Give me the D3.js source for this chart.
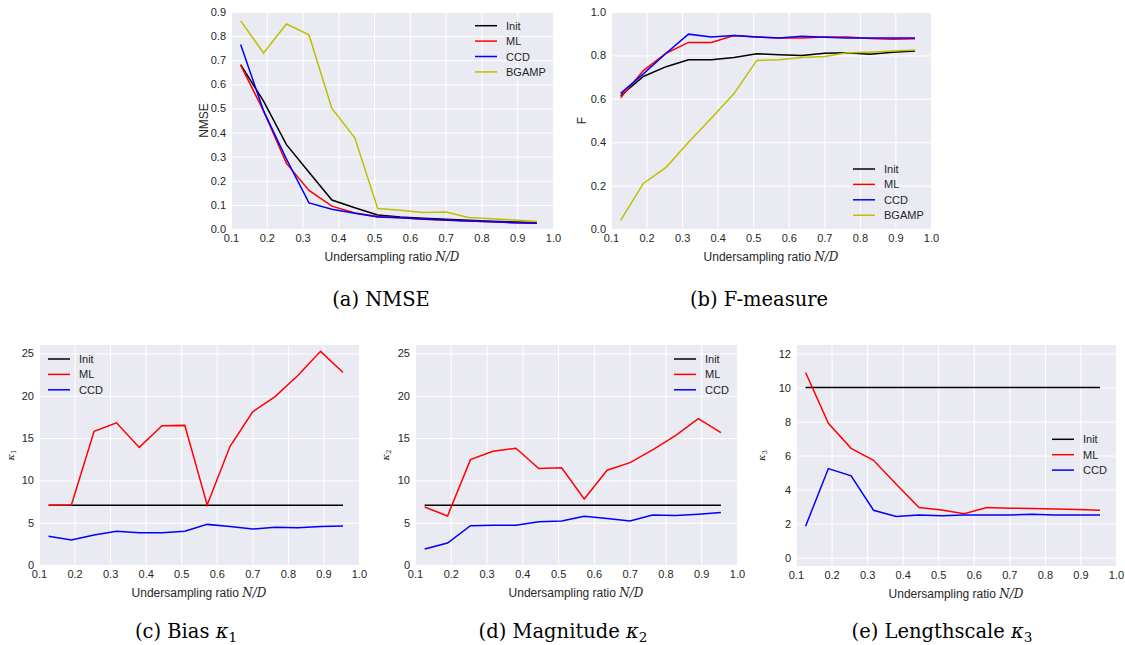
<!DOCTYPE html>
<html><head><meta charset="utf-8">
<script src="https://cdn.jsdelivr.net/npm/d3@7"></script>
<style>body{margin:0;background:#fff}svg{display:block}</style>
</head><body>
<svg id="c" width="1125" height="645"></svg>
<script>
// ---- data ----
const ratios = [0.127,0.191,0.255,0.318,0.382,0.446,0.510,0.573,0.637,0.701,0.764,0.828,0.892,0.955];
const seriesNames = ["Init","ML","CCD","BGAMP"];
const seriesColors = ["#000000","#ff0000","#0000ff","#bfbf00"];

const nmseInit  = [0.682,0.53,0.35,0.235,0.12,0.088,0.058,0.05,0.045,0.04,0.036,0.032,0.029,0.027];
const nmseML    = [0.68,0.49,0.272,0.16,0.095,0.066,0.052,0.047,0.04,0.036,0.033,0.03,0.026,0.024];
const nmseCCD   = [0.765,0.49,0.29,0.108,0.082,0.065,0.05,0.047,0.041,0.037,0.033,0.03,0.026,0.024];
const nmseBGAMP = [0.863,0.73,0.85,0.805,0.50,0.378,0.085,0.078,0.068,0.07,0.048,0.042,0.037,0.031];

const fInit  = [0.614,0.703,0.748,0.78,0.78,0.79,0.808,0.803,0.799,0.81,0.812,0.805,0.815,0.82];
const fML    = [0.605,0.73,0.81,0.86,0.86,0.892,0.885,0.88,0.88,0.885,0.885,0.878,0.875,0.877];
const fCCD   = [0.625,0.715,0.81,0.898,0.885,0.892,0.885,0.88,0.888,0.884,0.88,0.88,0.88,0.88];
const fBGAMP = [0.04,0.21,0.284,0.40,0.51,0.624,0.777,0.78,0.79,0.795,0.812,0.815,0.82,0.825];

const k1Init = [7.07,7.07,7.07,7.07,7.07,7.07,7.07,7.07,7.07,7.07,7.07,7.07,7.07,7.07];
const k1ML   = [7.07,7.1,15.8,16.8,13.9,16.45,16.5,7.1,14.0,18.1,19.9,22.4,25.25,22.75];
const k1CCD  = [3.4,2.95,3.55,4.0,3.8,3.8,4.0,4.8,4.55,4.25,4.45,4.4,4.55,4.6];

const k2Init = [7.07,7.07,7.07,7.07,7.07,7.07,7.07,7.07,7.07,7.07,7.07,7.07,7.07,7.07];
const k2ML   = [6.85,5.8,12.45,13.45,13.8,11.4,11.5,7.8,11.2,12.1,13.6,15.3,17.3,15.65];
const k2CCD  = [1.9,2.6,4.65,4.7,4.7,5.1,5.2,5.75,5.5,5.2,5.9,5.85,6.0,6.2];

const k3Init = [10,10,10,10,10,10,10,10,10,10,10,10,10,10];
const k3ML   = [10.88,7.89,6.42,5.72,4.31,2.94,2.8,2.58,2.94,2.9,2.88,2.86,2.82,2.78];
const k3CCD  = [1.84,5.23,4.8,2.78,2.41,2.5,2.45,2.5,2.5,2.5,2.55,2.5,2.5,2.5];

const xTicks = [0.1,0.2,0.3,0.4,0.5,0.6,0.7,0.8,0.9,1.0];
const nmseTicks = [0,0.1,0.2,0.3,0.4,0.5,0.6,0.7,0.8,0.9];
const fTicks = [0,0.2,0.4,0.6,0.8,1.0];
const kTicks = [0,5,10,15,20,25];
const k3Ticks = [0,2,4,6,8,10,12];

// ---- layout ----
const svg = d3.select("#c");
const SANS = "'Liberation Sans', Arial, sans-serif";
const SERIF = "'DejaVu Serif', 'Liberation Serif', serif";
const TXT = "#262626";

function panel(o){
  const g = svg.append("g");
  const x = d3.scaleLinear().domain([0.1,1.0]).range([o.x0,o.x1]);
  const y = d3.scaleLinear().domain(o.ydom).range([o.y1,o.y0]);
  g.append("rect").attr("x",o.x0).attr("y",o.y0).attr("width",o.x1-o.x0).attr("height",o.y1-o.y0).attr("fill","#eaeaf2");
  // grid
  g.append("g").attr("transform",`translate(0,${o.y1})`)
    .call(d3.axisBottom(x).tickValues(xTicks).tickSize(-(o.y1-o.y0)).tickFormat(d3.format(".1f")).tickPadding(5))
    .call(a=>{a.select(".domain").remove();
      a.selectAll("line").attr("stroke","#fff").attr("stroke-width",1);
      a.selectAll("text").attr("fill",TXT).attr("font-family",SANS).attr("font-size",11);});
  g.append("g").attr("transform",`translate(${o.x0},0)`)
    .call(d3.axisLeft(y).tickValues(o.yticks).tickSize(-(o.x1-o.x0)).tickFormat(d3.format(o.yfmt)).tickPadding(5))
    .call(a=>{a.select(".domain").remove();
      a.selectAll("line").attr("stroke","#fff").attr("stroke-width",1);
      a.selectAll("text").attr("fill",TXT).attr("font-family",SANS).attr("font-size",11);});
  const line = d3.line().x((d,i)=>x(ratios[i])).y(d=>y(d));
  o.series.forEach((s,k)=>{
    g.append("path").datum(s).attr("d",line).attr("fill","none")
      .attr("stroke",seriesColors[k]).attr("stroke-width",1.5);
  });
  // legend
  o.series.forEach((s,k)=>{
    const ly = o.leg[1] + k*15.4;
    g.append("line").attr("x1",o.leg[0]).attr("x2",o.leg[0]+22).attr("y1",ly).attr("y2",ly)
      .attr("stroke",seriesColors[k]).attr("stroke-width",1.5);
    g.append("text").attr("x",o.leg[0]+31).attr("y",ly+4).text(seriesNames[k])
      .attr("fill",TXT).attr("font-family",SANS).attr("font-size",11);
  });
  // x title
  const xt = g.append("text").attr("x",(o.x0+o.x1)/2).attr("y",o.y1+32).attr("text-anchor","middle")
    .attr("fill",TXT).attr("font-family",SANS).attr("font-size",12);
  xt.append("tspan").text("Undersampling ratio ");
  xt.append("tspan").attr("font-family",SERIF).attr("font-style","italic").text("N/D");
  // y title
  const yt = g.append("text").attr("transform",`translate(${o.ylx},${(o.y0+o.y1)/2}) rotate(-90)`)
    .attr("text-anchor","middle").attr("fill",TXT);
  if(o.ysub){
    yt.attr("font-family",SERIF).attr("font-style","italic").attr("font-size",10);
    yt.append("tspan").text("κ");
    yt.append("tspan").attr("font-style","normal").attr("font-size",7).attr("dy",2).text(o.ysub);
  } else {
    yt.attr("font-family",SANS).attr("font-size",12).text(o.ylab);
  }
  // caption
  const cap = svg.append("text").attr("x",o.cap[0]).attr("y",o.cap[1]).attr("text-anchor","middle")
    .attr("fill","#000").attr("font-family",SERIF).attr("font-size",19.5);
  cap.append("tspan").text(o.capText);
  if(o.capSub){
    cap.append("tspan").attr("font-style","italic").text("κ");
    cap.append("tspan").attr("font-size",13.5).attr("dy",4).text(o.capSub);
  }
}

panel({x0:231,x1:553,y0:12,y1:229,ydom:[0,0.9],yticks:nmseTicks,yfmt:".1f",
  series:[nmseInit,nmseML,nmseCCD,nmseBGAMP],leg:[475,25.7],ylx:208,ylab:"NMSE",
  cap:[381,306],capText:"(a)  NMSE"});
panel({x0:611,x1:931,y0:12,y1:229,ydom:[0,1],yticks:fTicks,yfmt:".1f",
  series:[fInit,fML,fCCD,fBGAMP],leg:[853,169],ylx:586,ylab:"F",
  cap:[759,306],capText:"(b)  F-measure"});
panel({x0:39,x1:359,y0:345,y1:565,ydom:[0,26],yticks:kTicks,yfmt:"d",
  series:[k1Init,k1ML,k1CCD],leg:[48,359],ylx:14,ysub:"1",
  cap:[186,638],capText:"(c)  Bias ",capSub:"1"});
panel({x0:415,x1:737,y0:345,y1:565,ydom:[0,26],yticks:kTicks,yfmt:"d",
  series:[k2Init,k2ML,k2CCD],leg:[674,359],ylx:389,ysub:"2",
  cap:[563,638],capText:"(d)  Magnitude ",capSub:"2"});
panel({x0:796,x1:1116,y0:345,y1:566,ydom:[-0.5,12.5],yticks:k3Ticks,yfmt:"d",
  series:[k3Init,k3ML,k3CCD],leg:[1052,439.3],ylx:765,ysub:"3",
  cap:[942,638],capText:"(e)  Lengthscale ",capSub:"3"});
</script>
</body></html>
